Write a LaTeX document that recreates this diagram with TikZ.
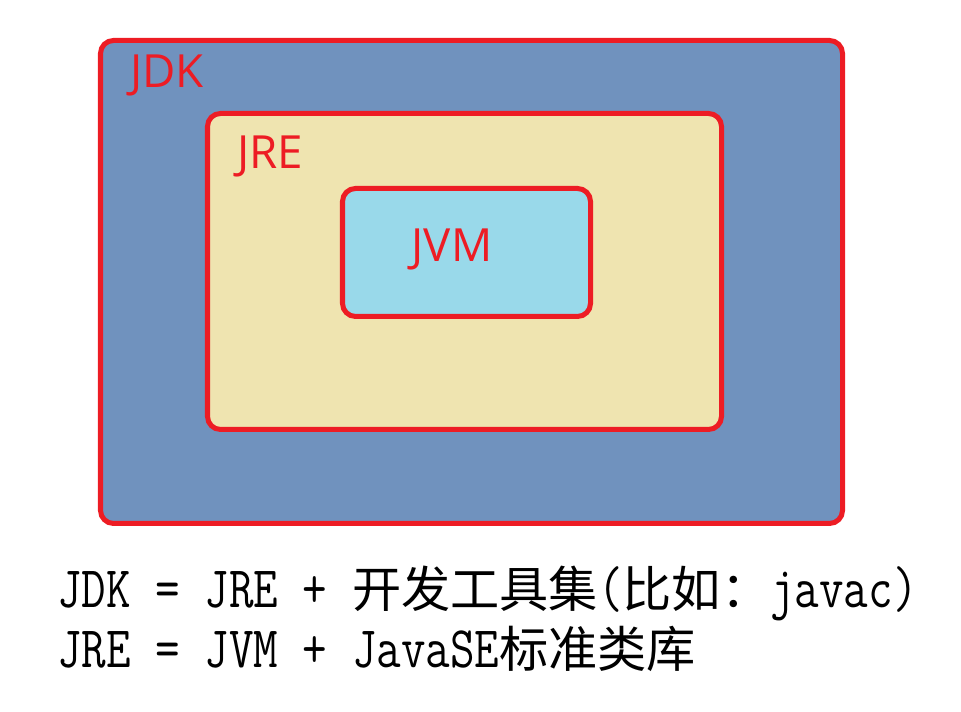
\documentclass[tikz,border=0pt]{standalone}
\usepackage{fontspec}
\setmainfont{Open Sans}
\newfontfamily\monof[FakeStretch=0.81]{Latin Modern Mono}
\newfontfamily\cjk{Noto Sans CJK SC}
\definecolor{jdkblue}{HTML}{7092BE}
\definecolor{jrecream}{HTML}{EFE4B0}
\definecolor{jvmcyan}{HTML}{99D9EA}
\definecolor{edgered}{HTML}{ED1C24}
\newcommand{\boxfont}{\fontsize{26}{30}\selectfont}
\newcommand{\eqline}{\fontsize{33.5}{40}\selectfont\monof}
\newcommand{\zh}[1]{{\fontsize{28}{32}\selectfont\cjk #1}}
\begin{document}
\begin{tikzpicture}[every node/.style={inner sep=0pt}]
\tikzset{
  layerbox/.style={draw=edgered, line width=2.85pt, rounded corners=0.26cm},
  boxtitle/.style={font=\boxfont, text=edgered},
  formula/.style={font=\eqline, anchor=base west}
}
\useasboundingbox (0,0) rectangle (19.22,14.24);
% nested boxes
\draw[layerbox, fill=jdkblue] (2.01,3.77) rectangle (16.85,13.43);
\draw[layerbox, fill=jrecream] (4.15,5.65) rectangle (14.43,11.97);
\draw[layerbox, fill=jvmcyan] (6.85,7.91) rectangle (11.81,10.47);
\node[boxtitle] (jdk) at (3.34,12.74) {JDK};
\node[boxtitle] (jre) at (5.40,11.12) {JRE};
\node[boxtitle] (jvm) at (9.04,9.26) {JVM};
% formulas below
\node[formula] (jdkdef) at (1.14,2.08) {JDK = JRE + \zh{开发工具集}(\zh{比如：}javac)};
\node[formula] (jredef) at (1.14,0.88) {JRE = JVM + JavaSE\zh{标准类库}};
\end{tikzpicture}
\end{document}
